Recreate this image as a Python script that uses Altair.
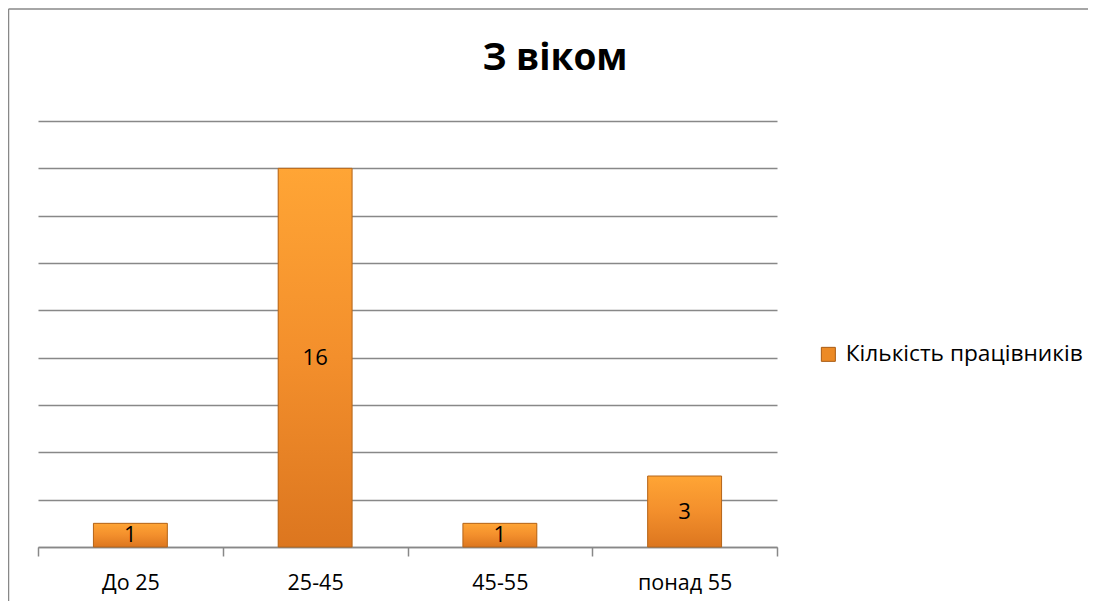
import altair as alt
import pandas as pd

categories = ["До 25", "25-45", "45-55", "понад 55"]
values = [1, 16, 1, 3]
series_name = "Кількість працівників"
title_text = "З віком"

df = pd.DataFrame({"cat": categories, "val": values, "series": [series_name] * 4})
df["half"] = df["val"] / 2

FONT = "Open Sans"

x = alt.X("cat:N", sort=categories, title=None,
          scale=alt.Scale(paddingInner=0, paddingOuter=0),
          axis=alt.Axis(labelAngle=0, labelFontSize=21.5, labelColor="#000", labelFont=FONT,
                        domainColor="#888", domainWidth=1.5, tickColor="#888", tickWidth=1.5,
                        tickSize=9, tickBand="extent", grid=False,
                        labelBaseline="alphabetic", labelPadding=33))
y = alt.Y("val:Q", title=None,
          scale=alt.Scale(domain=[0, 18], nice=False),
          axis=alt.Axis(values=list(range(0, 19, 2)), labels=False, ticks=False, domain=False,
                        grid=True, gridColor="#888", gridWidth=1.5))

base = alt.Chart(df)

legend_bars = base.mark_bar(width=alt.RelativeBandSize(0.4)).encode(
    x=x, y=y,
    color=alt.Color("series:N", title=None,
                    scale=alt.Scale(range=["#EC8A25"]),
                    legend=alt.Legend(orient="none", legendX=779, legendY=222,
                                      symbolType="square", symbolSize=196,
                                      symbolStrokeColor="#A85A12", symbolStrokeWidth=1,
                                      labelFontSize=22.7, labelFont=FONT, labelColor="#000",
                                      labelLimit=400, labelOffset=6)),
)

grad = alt.Gradient(gradient="linear", x1=0, y1=0, x2=0, y2=1,
                    stops=[alt.GradientStop(color="#FFA535", offset=0),
                           alt.GradientStop(color="#F38F2C", offset=0.5),
                           alt.GradientStop(color="#DC761F", offset=1)])
bars = base.mark_bar(width=alt.RelativeBandSize(0.4), fill=grad,
                     stroke="#B4661C", strokeWidth=1).encode(
    x=alt.X("cat:N", sort=categories), y=alt.Y("val:Q"))

labels = base.mark_text(fontSize=22, font=FONT, color="#000", baseline="middle").encode(
    x=alt.X("cat:N", sort=categories), y=alt.Y("half:Q"), text=alt.Text("val:Q"))

title_df = pd.DataFrame({"t": [title_text]})
title = alt.Chart(title_df).mark_text(fontSize=37, fontWeight="bold", font=FONT, color="#000",
                                      baseline="alphabetic").encode(
    text="t:N", x=alt.value(517), y=alt.value(-51))

border_df = pd.DataFrame({"k": [0]})
top_border = alt.Chart(border_df).mark_rule(color="#888", strokeWidth=1.5).encode(
    x=alt.value(-29.5), x2=alt.value(1060), y=alt.value(-112))
left_border = alt.Chart(border_df).mark_rule(color="#888", strokeWidth=1.5).encode(
    x=alt.value(-29.5), y=alt.value(-112), y2=alt.value(480))

chart = alt.layer(legend_bars, bars, labels, title, top_border, left_border).properties(
    width=739, height=426,
    padding={"left": 30, "top": 113, "right": 311, "bottom": 55},
    autosize=alt.AutoSizeParams(type="none"),
).configure(background="white").configure_view(strokeWidth=0, stroke="transparent")

chart.save("out.html", embed_options={"renderer": "svg", "actions": False})
